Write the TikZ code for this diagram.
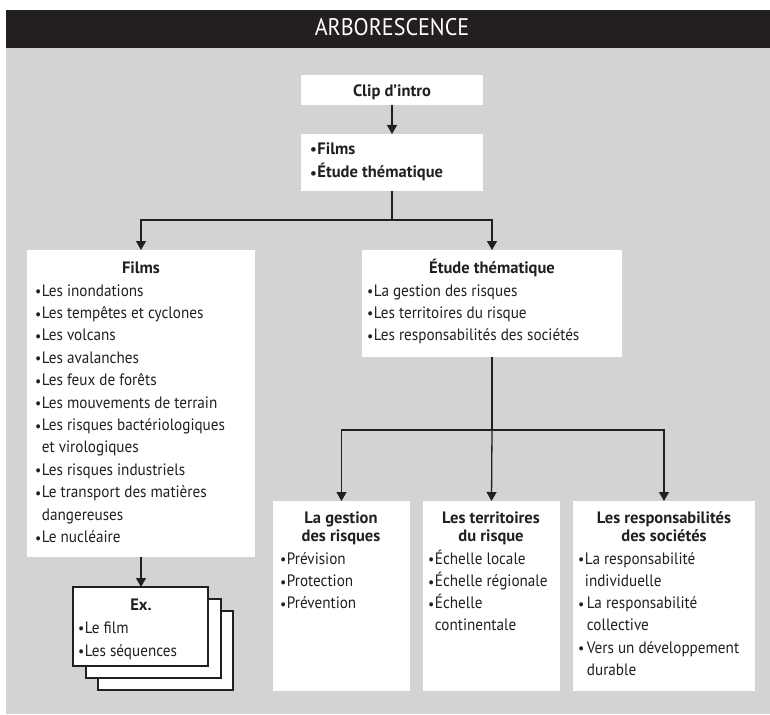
\documentclass[tikz,border=0pt]{standalone}
\usepackage{fontspec}
\setmainfont{PT Sans}[FakeStretch=0.92, BoldFeatures={FakeStretch=1.0}]
\usetikzlibrary{arrows.meta}
\definecolor{ink}{HTML}{231F20}
\definecolor{bg}{HTML}{D1D3D4}
\newcommand\bul{{\fontsize{15}{15}\selectfont\raisebox{-0.7pt}{•}}\kern0.5pt}
\newcommand\cont{\phantom{\bul}}
\begin{document}
\begin{tikzpicture}[x=1pt,y=-1pt,
  box/.style={fill=white, draw=none, inner sep=0pt, outer sep=0pt, anchor=north west},
  exbox/.style={fill=white, draw=ink, line width=1.1pt, inner sep=0pt, outer sep=0pt, anchor=north west, minimum width=135pt, minimum height=79pt},
  txt/.style={font=\fontsize{16.5}{18}\selectfont, text=ink, inner sep=0pt, anchor=base west},
  head/.style={font=\bfseries\fontsize{16.5}{18}\selectfont, text=ink, inner sep=0pt, anchor=base},
  hbul/.style={font=\bfseries\fontsize{16.5}{18}\selectfont, text=ink, inner sep=0pt, anchor=base west},
  link/.style={draw=ink, line width=1.3pt},
  arr/.style={link, -{Triangle[length=9pt,width=10pt]}}]
\useasboundingbox (0,0) rectangle (770,714);
\fill[white] (0,0) rectangle (770,714);
\fill[ink] (6,10) rectangle (770,48);
\fill[bg] (6,48) rectangle (770,714);
\node[font=\fontsize{24}{24}\selectfont, text=white, inner sep=0pt, anchor=base] (title) at (392,36) {ARBORESCENCE};

% boxes
\node[box, minimum width=182pt, minimum height=30pt] (clip) at (301,75) {};
\node[box, minimum width=182pt, minimum height=57pt] (top) at (301,134) {};
\node[box, minimum width=228pt, minimum height=307pt] (films) at (27,250) {};
\node[box, minimum width=260pt, minimum height=107pt] (etude) at (362,250) {};
\node[box, minimum width=137pt, minimum height=190pt] (gest) at (273,501) {};
\node[box, minimum width=137pt, minimum height=190pt] (terr) at (423,501) {};
\node[box, minimum width=182pt, minimum height=190pt] (resp) at (573,501) {};
\node[exbox] (ex3) at (98,611) {};
\node[exbox] (ex2) at (86,599) {};
\node[exbox] (ex) at (73,587) {};

% connectors
\draw[arr] (clip.south) -- (top.north);
\coordinate (j1) at (392,220);
\draw[link] (top.south) -- (j1);
\draw[arr] (j1) -| (films.north);
\draw[arr] (j1) -| (etude.north);
\coordinate (j2) at (etude.south |- 0,430);
\draw[link] (etude.south) -- (j2);
\draw[arr] (j2) -| (gest.north);
\draw[arr] (j2) -- (terr.north);
\draw[arr] (j2) -| (resp.north);
\draw[arr] (films.south) -- (films.south |- ex.north);

% texts
\node[head] (tclip) at (392,97) {Clip d’intro};
\node[hbul] (t1) at (310,154) {\bul Films};
\node[hbul] (t2) at (310,178) {\bul Étude thématique};

\node[head] (tfilms) at (141,273) {Films};
\foreach \t [count=\i from 0] in {\bul Les inondations, \bul Les tempêtes et cyclones, \bul Les volcans, \bul Les avalanches, \bul Les feux de forêts, \bul Les mouvements de terrain, \bul Les risques bactériologiques, \cont et virologiques, \bul Les risques industriels, \bul Le transport des matières, \cont dangereuses, \bul Le nucléaire}
  \node[txt] (fl\i) at (35,296+22.4*\i) {\t};

\node[head] (tetude) at (492,273) {Étude thématique};
\foreach \t [count=\i from 0] in {\bul La gestion des risques, \bul Les territoires du risque, \bul Les responsabilités des sociétés}
  \node[txt] (el\i) at (367,296+22.2*\i) {\t};

\node[head] (tg1) at (341,523) {La gestion};
\node[head] (tg2) at (341,541) {des risques};
\foreach \t [count=\i from 0] in {\bul Prévision, \bul Protection, \bul Prévention}
  \node[txt] (gl\i) at (280,564+22.3*\i) {\t};

\node[head] (tt1) at (491,523) {Les territoires};
\node[head] (tt2) at (491,541) {du risque};
\foreach \t [count=\i from 0] in {\bul Échelle locale, \bul Échelle régionale, \bul Échelle, \cont continentale}
  \node[txt] (tl\i) at (428,564+22.3*\i) {\t};

\node[head] (tr1) at (664,523) {Les responsabilités};
\node[head] (tr2) at (664,541) {des sociétés};
\foreach \t [count=\i from 0] in {\bul La responsabilité, \cont individuelle, \bul\kern2pt La responsabilité, \cont\kern2pt collective, \bul\kern2pt Vers un développement, \cont\kern2pt durable}
  \node[txt] (rl\i) at (578,564+22.3*\i) {\t};

\node[head] (tex) at (141,610) {Ex.};
\node[txt] (x1) at (78,633) {\bul Le film};
\node[txt] (x2) at (78,656) {\bul Les séquences};
\end{tikzpicture}
\end{document}
